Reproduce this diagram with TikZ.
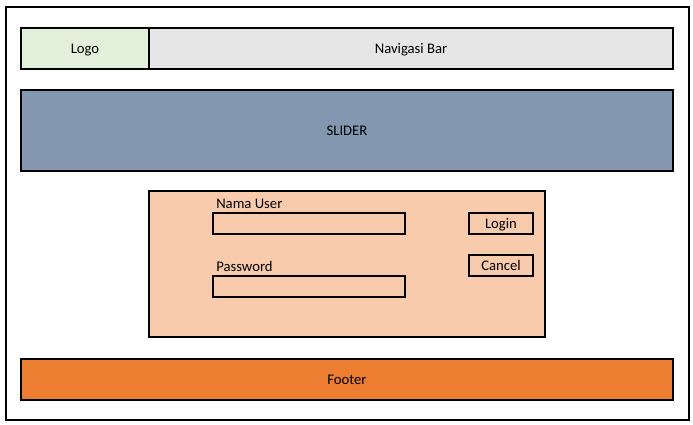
\documentclass[tikz,border=0pt]{standalone}
\usepackage{fontspec}
\setmainfont{Carlito}
\usepackage{tikz}
\usetikzlibrary{positioning}

\begin{document}
\begin{tikzpicture}[x=0.75pt, y=-0.75pt, font=\fontsize{11}{13}\selectfont]

% =========================
% Color Definitions
% =========================
\definecolor{logofill}{HTML}{E2EFDA}
\definecolor{navfill}{HTML}{E7E6E6}
\definecolor{sliderfill}{HTML}{8497B0}
\definecolor{loginfill}{HTML}{F8CBAD}
\definecolor{footerfill}{HTML}{ED7D31}

\def\px{0.75pt} % one pixel of the mockup

% =========================
% Box Styles
% =========================
\tikzset{
    frame/.style={
        draw=black,
        line width=2*\px,
        inner sep=0pt,
        text height=8pt, % keeps every label on the same baseline
        text depth=0pt,
        anchor=north west
    },
    field/.style={
        frame,
        fill=loginfill
    },
    button/.style={
        frame,
        fill=loginfill,
        minimum width=64*\px,
        minimum height=21*\px
    },
    caption/.style={
        inner sep=0pt,
        anchor=base west
    }
}

\useasboundingbox (0,0) rectangle (693,425);

% =========================
% Page Frame
% =========================
\node[frame, minimum width=683*\px, minimum height=413*\px] (page) at (5,6) {};

% =========================
% Header
% =========================
\node[frame, fill=logofill, minimum width=128*\px, minimum height=41*\px] (logo) at (20,27) {Logo};
\node[frame, fill=navfill, minimum width=524*\px, minimum height=41*\px] (nav) at (148,27) {Navigasi Bar};

% =========================
% Slider
% =========================
\node[frame, fill=sliderfill, minimum width=652*\px, minimum height=81*\px] (slider) at (20,89) {SLIDER};

% =========================
% Login Panel
% =========================
\node[frame, fill=loginfill, minimum width=396*\px, minimum height=146*\px] (panel) at (148,190) {};

\node[caption] (userlabel) at (216,208) {Nama User};
\node[field, minimum width=192*\px, minimum height=21*\px] (userfield) at (212,212) {};

\node[caption] (passlabel) at (216,271) {Password};
\node[field, minimum width=192*\px, minimum height=21*\px] (passfield) at (212,275) {};

\node[button] (login) at (468,212) {Login};
\node[button] (cancel) at (468,254) {Cancel};

% =========================
% Footer
% =========================
\node[frame, fill=footerfill, minimum width=652*\px, minimum height=41*\px] (footer) at (20,358) {Footer};

\end{tikzpicture}
\end{document}
